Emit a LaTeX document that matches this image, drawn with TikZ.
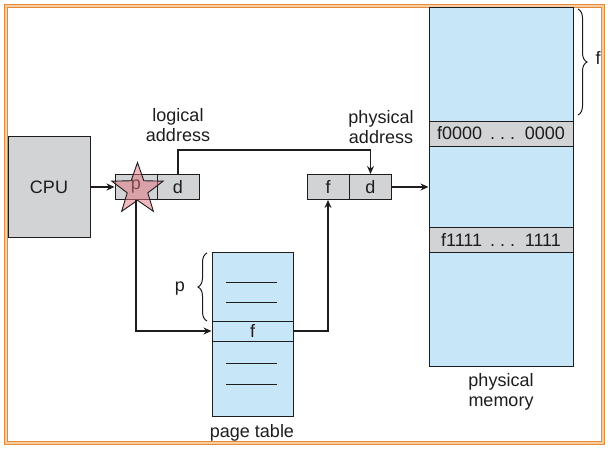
\documentclass[tikz,border=0pt]{standalone}
\usepackage{fontspec}
\setmainfont{Liberation Sans}
\usetikzlibrary{arrows.meta,decorations.pathreplacing,shapes.geometric}
\definecolor{boxgray}{RGB}{209,211,212}
\definecolor{memblue}{RGB}{199,230,247}
\definecolor{frameor}{RGB}{228,138,58}
\definecolor{framelt}{RGB}{248,205,160}
\definecolor{ink}{RGB}{30,28,28}
\definecolor{starpink}{RGB}{225,115,125}
\begin{document}
\begin{tikzpicture}[x=1pt,y=-1pt,
  every node/.style={font=\fontsize{18}{20}\selectfont, text=ink},
  cell/.style={draw=ink, line width=1pt, fill=boxgray, inner sep=0pt, minimum width=42pt, minimum height=25pt},
  blk/.style={draw=ink, line width=1pt, inner sep=0pt},
  lbl/.style={align=center, inner sep=0pt},
  arr/.style={draw=ink, line width=1.8pt, -{Stealth[length=8pt,width=7pt]}},
  tick/.style={draw=ink, line width=1pt},
  brc/.style={draw=ink, line width=1pt, decorate, decoration={brace, amplitude=9pt}}]
\useasboundingbox (0,0) rectangle (608,450);
% frame
\draw[framelt, line width=3.5pt] (5.5,5.5) rectangle (602.5,442.5);
\draw[frameor, line width=1pt] (4,4) rectangle (604,444);
\draw[frameor, line width=1pt] (7,7) rectangle (601,441);
% CPU
\node[blk, fill=boxgray, minimum width=82pt, minimum height=101pt] (cpu) at (49,187) {CPU};
% logical address
\node[cell] (lp) at (136,187) {p};
\node[cell] (ld) at (178,187) {d};
\node[lbl] (llab) at (178,125) {logical\\address};
% star
\node[star, star points=5, star point ratio=2.5, minimum size=54pt, inner sep=0pt,
      draw=ink, line width=0.9pt, fill=starpink, fill opacity=0.5] (star) at (137.5,189.5) {};
% physical address
\node[cell] (pf) at (328,187) {f};
\node[cell] (pd) at (370.5,187) {d};
\node[lbl] (plab) at (381,127) {physical\\address};
% physical memory
\node[blk, fill=memblue, minimum width=144pt, minimum height=359pt] (mem) at (501,186.5) {};
\node[blk, fill=boxgray, minimum width=144pt, minimum height=25pt] (b0) at (501,133.5) {f0000 \,.\hspace{5pt}.\hspace{5pt}.\, 0000};
\node[blk, fill=boxgray, minimum width=144pt, minimum height=25pt] (b1) at (501,239.5) {f1111 \,.\hspace{5pt}.\hspace{5pt}.\, 1111};
\node[lbl] (mlab) at (501,392) {physical\\memory};
\coordinate (mt) at (578,9);
\coordinate (mb) at (578,115);
\draw[brc] (mt) -- (mb);
\node[lbl] (flab) at (598,58) {f};
% page table
\node[blk, fill=memblue, minimum width=81pt, minimum height=164pt] (pt) at (252.5,334) {};
\node[blk, fill=memblue, minimum width=81pt, minimum height=20pt] (ptf) at (252.5,331) {f};
\node[lbl] (ptlab) at (252,433) {page table};
\draw[tick] (226,282) -- (277,282);
\draw[tick] (226,302) -- (277,302);
\draw[tick] (226,363) -- (277,363);
\draw[tick] (226,384) -- (277,384);
\coordinate (pbt) at (207,321);
\coordinate (pbb) at (207,253);
\draw[brc] (pbt) -- (pbb);
\node[lbl] (plabel) at (180,289) {p};
% connectors
\draw[arr] (cpu.east) -- (lp.west);
\draw[arr] (ld.north) -- ++(0,-24) -| (pd.north);
\draw[arr] (lp.south) |- (ptf.west);
\draw[arr] (ptf.east) -| (pf.south);
\draw[arr] (pd.east) -- (pd.east -| mem.west);
\end{tikzpicture}
\end{document}
